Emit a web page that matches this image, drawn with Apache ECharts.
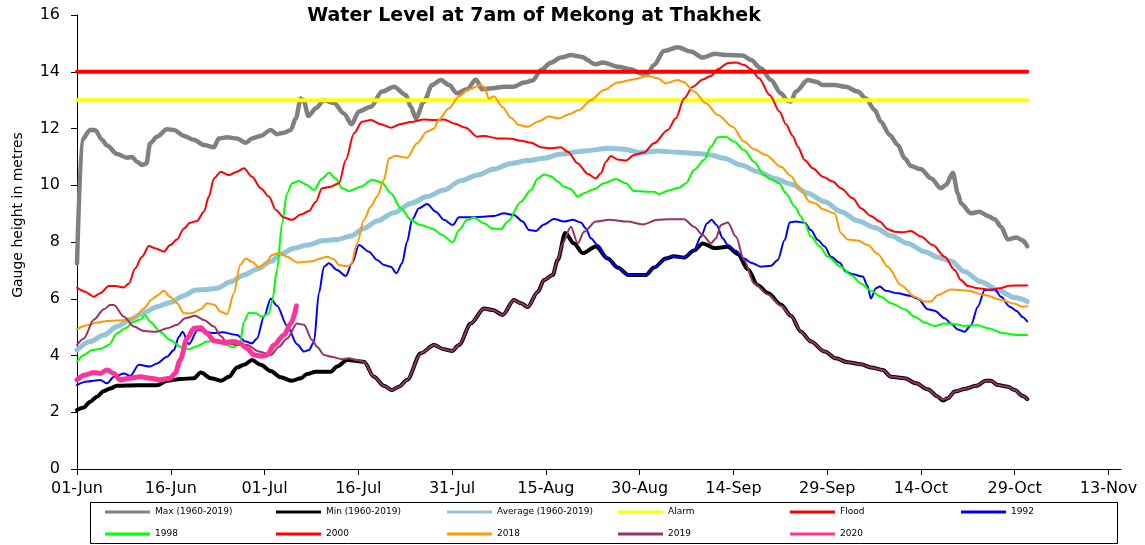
<!DOCTYPE html>
<html>
<head>
<meta charset="utf-8">
<script src="https://cdn.jsdelivr.net/npm/echarts@6/dist/echarts.min.js"></script>
<style>
  html, body { margin: 0; padding: 0; background: #fff; }
  #chart { width: 1145px; height: 545px; }
</style>
</head>
<body>
<div id="chart"></div>
<script>
// days counted from 01-Jun (day 0)
const tickDays = [0, 15, 30, 45, 60, 75, 90, 105, 120, 135, 150, 165];
const tickLabels = ['01-Jun', '16-Jun', '01-Jul', '16-Jul', '31-Jul', '15-Aug',
  '30-Aug', '14-Sep', '29-Sep', '14-Oct', '29-Oct', '13-Nov'];

const alarmLevel = 13;
const floodLevel = 14;
const thresholdDays = [0, 152];

// [day, gauge height in m]
const maxLevel = [[0,7.25],[0.8,11.6],[2.1,11.95],[2.9,11.95],[4,11.6],[4.8,11.4],[6.4,11.1],[8,10.97],[8.8,11.0],[9.6,10.83],[10.4,10.71],[11.1,10.77],[11.7,11.48],[12.8,11.71],[14.4,11.97],[15.5,11.95],[17.1,11.74],[18.7,11.6],[20.3,11.42],[21.9,11.34],[22.7,11.65],[24,11.69],[25.6,11.65],[27,11.5],[28,11.65],[29.4,11.74],[31,11.95],[32,11.8],[33.1,11.85],[34.2,11.95],[35,12.36],[35.8,13.06],[36.3,12.95],[37,12.44],[38.2,12.71],[39.5,13.0],[41.1,12.9],[42.7,12.53],[43.9,12.15],[45.1,12.6],[47,12.77],[48.8,13.3],[50.7,13.47],[52.6,13.18],[53.4,12.77],[54.2,12.36],[55.5,12.95],[56.8,13.53],[58.2,13.71],[59.5,13.53],[60.8,13.24],[62.4,13.38],[63.8,13.73],[64.8,13.38],[66.4,13.42],[68.3,13.47],[69.9,13.47],[71.5,13.62],[72.9,13.69],[74.2,14.06],[75.8,14.32],[77.4,14.5],[79,14.59],[80.6,14.53],[83,14.26],[84.1,14.33],[86.5,14.18],[88.6,14.09],[90.2,13.94],[91.3,13.94],[92.3,14.24],[93.9,14.73],[96.1,14.86],[98.2,14.71],[100.1,14.5],[102,14.63],[104.1,14.59],[106.5,14.57],[107.8,14.41],[109.4,14.12],[111,13.71],[112.6,13.24],[113.7,12.98],[114.2,12.95],[115,13.3],[116.9,13.71],[118.2,13.65],[119.3,13.53],[121.2,13.53],[123,13.47],[124.9,13.3],[126.2,13.06],[127.6,12.65],[128.6,12.24],[130,11.77],[131.3,11.42],[132.4,10.95],[133.4,10.68],[135,10.56],[136.6,10.25],[138.2,9.89],[139,10.01],[140.1,10.44],[140.9,9.72],[141.4,9.36],[143,9.01],[144.4,9.07],[145.7,8.92],[146.8,8.8],[147.8,8.54],[148.9,8.09],[150.3,8.16],[151.3,8.05],[152,7.85]];

const minLevel = [[0,2.08],[1.1,2.17],[2.1,2.37],[3.2,2.55],[4.3,2.75],[5.3,2.84],[6.4,2.93],[9.6,2.95],[12.8,2.95],[14.4,3.11],[16.6,3.17],[18.7,3.2],[19.8,3.4],[21.4,3.2],[23,3.11],[24.3,3.25],[25.6,3.58],[26.7,3.67],[28,3.84],[29.4,3.67],[31,3.45],[32.6,3.23],[34.4,3.11],[35.8,3.2],[36.8,3.35],[38.2,3.43],[40.6,3.43],[41.6,3.61],[43.2,3.84],[45.9,3.78],[47.5,3.25],[49.1,2.93],[50.4,2.78],[51.5,2.9],[52.8,3.14],[55,4.08],[57.1,4.37],[58.7,4.22],[60,4.16],[61.1,4.37],[63,5.13],[65.1,5.66],[66.5,5.6],[68.1,5.43],[69.9,5.96],[71,5.84],[72.1,5.71],[73.7,6.24],[74.7,6.66],[76.1,6.84],[76.9,7.37],[78.1,8.32],[79.5,7.95],[80.9,7.61],[83,7.84],[84.9,7.42],[86.5,7.1],[88.2,6.84],[91,6.84],[92.3,7.1],[94.2,7.42],[95.5,7.5],[97.1,7.45],[98.7,7.7],[100.1,7.95],[102,7.79],[104.1,7.83],[105.7,7.58],[107.3,7.04],[108.9,6.48],[110.5,6.2],[112.6,5.8],[114.2,5.4],[115.8,4.84],[117.4,4.49],[119.6,4.14],[121.4,3.9],[123.3,3.76],[125.4,3.69],[127,3.58],[128.9,3.49],[130.2,3.25],[132.4,3.2],[134.2,3.02],[136.1,2.81],[137.7,2.55],[138.5,2.41],[139.3,2.49],[140.4,2.73],[142,2.82],[143.8,2.93],[145.4,3.11],[146.2,3.11],[147.3,2.96],[148.9,2.9],[150,2.78],[151.3,2.57],[152,2.46]];

const avgLevel = [[0,4.19],[2.1,4.49],[4.3,4.72],[6.4,5.02],[8.5,5.27],[10.7,5.51],[12.8,5.72],[14.9,5.87],[17.1,6.11],[19,6.31],[20.8,6.33],[22.4,6.37],[24.6,6.6],[26.7,6.84],[28.8,7.04],[31,7.31],[32.6,7.58],[34.7,7.78],[36.8,7.89],[39.5,8.05],[41.6,8.09],[43.8,8.21],[45.9,8.48],[48,8.74],[50.7,9.03],[53.4,9.36],[56,9.6],[58.7,9.83],[61.4,10.16],[64.1,10.36],[66.7,10.57],[69.4,10.77],[72.1,10.87],[74.7,10.95],[77.4,11.1],[81.1,11.21],[85.1,11.3],[87.5,11.27],[90.2,11.15],[92.9,11.21],[96.1,11.16],[99.3,11.12],[101.4,11.07],[103.5,10.95],[106.2,10.71],[108.9,10.48],[111.6,10.24],[114.2,10.04],[116.9,9.72],[119.6,9.42],[122.2,9.07],[124.9,8.75],[127.6,8.51],[130.2,8.22],[132.9,7.95],[135.6,7.66],[137.7,7.46],[139.8,7.33],[142,6.95],[144.6,6.6],[147.3,6.31],[150,6.04],[152,5.9]];

const level1992 = [[0,2.96],[1.6,3.08],[3.7,3.14],[4.8,3.02],[5.9,3.25],[7.5,3.37],[8.5,3.28],[9.9,3.67],[11.7,3.61],[12.8,3.72],[14.4,3.96],[15.5,4.19],[16.3,4.66],[16.9,4.84],[17.9,4.4],[19.3,4.9],[21.9,4.79],[23.2,4.82],[25.6,4.72],[27,4.49],[28,4.43],[28.8,4.6],[29.9,5.37],[31,6.0],[32,5.75],[33.6,5.05],[35.2,4.4],[36.3,4.14],[37.1,4.19],[37.9,4.48],[38.7,6.2],[39.5,7.13],[40.3,7.25],[41.6,7.01],[43,6.8],[44,7.25],[45.1,7.89],[46.7,7.66],[48,7.37],[49.1,7.19],[50.2,7.13],[51.1,6.9],[52,7.25],[52.8,8.01],[53.6,8.78],[54.7,9.19],[56,9.34],[57.4,9.07],[58.7,8.78],[60.1,8.6],[61.1,8.87],[63,8.87],[65.1,8.89],[66.7,8.92],[68.3,9.01],[69.9,8.95],[71.3,8.72],[72.3,8.42],[73.4,8.39],[74.7,8.62],[76.3,8.81],[77.9,8.72],[79.3,8.78],[80.6,8.69],[81.4,8.48],[82.2,8.13],[83.3,7.89],[84.9,7.42],[86.5,7.1],[88.3,6.84],[91,6.84],[92.3,7.1],[94.2,7.42],[95.5,7.5],[97.1,7.45],[98.7,7.72],[99.8,8.19],[100.8,8.66],[101.5,8.78],[102.3,8.6],[103.3,8.13],[104.1,7.89],[105.4,7.69],[106.7,7.42],[107.8,7.27],[109.4,7.13],[111,7.16],[112.1,7.37],[113.2,8.07],[114,8.69],[115,8.72],[116.4,8.68],[117.4,8.42],[118.5,8.07],[119.6,7.84],[120.6,7.48],[122,7.27],[123,6.95],[124.1,6.86],[125.7,6.78],[126.4,6.48],[127,6.01],[127.8,6.37],[128.4,6.43],[129.4,6.28],[131.3,6.19],[133.2,6.11],[134.5,6.01],[136.1,5.63],[137.2,5.58],[138.8,5.31],[139.8,5.13],[140.9,4.92],[142,4.84],[143,5.07],[144.1,5.72],[145.2,6.31],[146.8,6.33],[147.8,6.07],[149.2,5.72],[150.3,5.57],[151.3,5.35],[152,5.2]];

const level1998 = [[0,3.78],[1.1,4.02],[2.4,4.19],[3.7,4.23],[5.1,4.37],[6.4,4.78],[7.7,4.96],[9.1,5.19],[10.1,5.27],[10.9,5.43],[11.7,5.19],[13.3,4.84],[14.9,4.55],[16.5,4.31],[17.9,4.22],[19.2,4.33],[20.8,4.49],[22.4,4.52],[23.8,4.37],[25.1,4.29],[26.1,4.49],[26.7,5.19],[27.5,5.51],[28.6,5.49],[29.6,5.37],[30.7,5.49],[31.2,5.9],[32,7.01],[32.8,8.66],[33.6,9.72],[34.4,10.07],[35.5,10.15],[36.8,10.01],[37.9,9.83],[39.2,10.24],[40.3,10.44],[41.4,10.24],[42.4,9.89],[43.5,9.8],[45.4,9.95],[47.2,10.19],[48.8,10.09],[50.2,9.72],[51.8,9.19],[53.4,8.78],[54.7,8.62],[56.8,8.48],[58.4,8.25],[60.1,7.99],[61.1,8.42],[62.4,8.78],[63.5,8.86],[65.1,8.66],[66.4,8.48],[67.8,8.45],[68.9,8.72],[71,9.42],[72.6,9.83],[73.7,10.24],[74.7,10.38],[75.8,10.32],[76.9,10.13],[77.9,9.95],[79,9.86],[80.1,9.6],[81.1,9.72],[82.7,9.86],[84.3,10.07],[86.2,10.22],[87.8,10.07],[89.1,9.8],[91,9.77],[92.3,9.77],[93.1,9.69],[94.5,9.81],[96.3,9.91],[97.4,10.07],[98.7,10.54],[100.3,10.89],[101.4,11.36],[102.5,11.69],[103.8,11.71],[105.1,11.54],[106.7,11.24],[108.3,10.83],[109.9,10.36],[111,10.21],[112.3,10.07],[113.4,9.72],[114.8,9.25],[115.8,8.9],[116.4,8.66],[117.4,8.19],[118.8,7.84],[120.1,7.48],[122.2,7.13],[123.8,6.84],[125.4,6.54],[127,6.28],[128.6,6.07],[130.2,5.84],[132.4,5.63],[134,5.37],[135.6,5.16],[137.2,5.04],[138.8,5.13],[140.4,5.11],[142,5.04],[144.1,5.07],[145.7,4.96],[148.4,4.78],[150.5,4.72],[152,4.72]];

const level2000 = [[0,6.39],[1.3,6.25],[2.7,6.07],[3.7,6.19],[5.1,6.45],[6.1,6.45],[7.5,6.4],[8.3,6.54],[9.3,7.07],[10.4,7.48],[11.5,7.86],[12.5,7.78],[13.9,7.66],[14.9,7.89],[16,8.09],[17.1,8.48],[18.1,8.68],[19.2,8.74],[20.3,9.07],[21.1,9.6],[21.9,10.24],[23,10.48],[24.3,10.36],[25.6,10.48],[26.7,10.6],[28,10.3],[29.4,9.89],[30.7,9.6],[31.8,9.13],[33.1,8.86],[34.4,8.78],[35.8,8.97],[37.1,9.09],[38.2,9.42],[39.2,9.89],[40.6,9.95],[41.9,10.07],[43,10.89],[44.3,11.83],[45.6,12.24],[47,12.3],[48.6,12.15],[50.2,12.03],[51.8,12.16],[53.4,12.23],[55.5,12.32],[57.1,12.3],[58.7,12.32],[60.3,12.18],[62.2,12.03],[64,11.71],[65.1,11.74],[67.3,11.65],[69.4,11.64],[71,11.57],[72.6,11.5],[74.2,11.34],[75.8,11.3],[77.4,11.34],[78.5,11.18],[80.1,10.77],[81.7,10.4],[83,10.24],[83.8,10.42],[84.6,10.83],[85.4,11.03],[86.5,10.91],[87.8,10.87],[89.1,11.07],[90.7,11.15],[92.3,11.48],[94.5,11.95],[95.8,12.36],[97.1,13.06],[98.5,13.47],[100.1,13.73],[101.4,13.85],[102.5,14.09],[104.1,14.3],[105.4,14.33],[106.7,14.24],[107.8,14.09],[109.1,13.77],[110.8,13.18],[112.4,12.59],[113.4,12.15],[114.5,11.74],[115.3,11.36],[116.4,10.89],[117.7,10.6],[119.3,10.3],[120.9,10.13],[122.2,9.89],[124.1,9.54],[125.4,9.19],[127,8.92],[128.4,8.72],[129.7,8.45],[130.8,8.36],[132.1,8.34],[133.4,8.39],[135,8.19],[136.9,7.89],[138.8,7.48],[140.4,7.01],[141.4,6.66],[142.5,6.45],[144.1,6.37],[146,6.31],[147.6,6.37],[149.2,6.46],[151,6.47],[152,6.47]];

const level2018 = [[0,4.93],[1.6,5.07],[3.2,5.16],[4.8,5.22],[6.4,5.23],[8,5.25],[9.3,5.35],[10.7,5.66],[12,5.98],[12.8,6.11],[13.9,6.28],[14.9,6.07],[16,5.84],[17.1,5.49],[18.4,5.49],[19.8,5.63],[20.8,5.84],[21.9,5.8],[23,5.54],[24,5.46],[25.1,6.19],[26.1,7.19],[27,7.42],[28,7.3],[29.1,7.1],[30.2,7.25],[31.2,7.54],[32.3,7.62],[33.6,7.48],[35.2,7.28],[36.6,7.3],[37.9,7.33],[38.9,7.42],[40,7.48],[41.1,7.39],[41.9,7.19],[43,7.15],[43.8,7.17],[44.8,7.95],[45.9,8.78],[47,9.25],[48,9.6],[49.1,10.19],[49.9,10.95],[51,11.04],[52.8,10.97],[54.4,11.48],[56,11.89],[57.1,12.0],[57.9,12.32],[59.5,12.71],[61.1,13.14],[62.7,13.38],[64.6,13.53],[65.1,13.47],[65.9,13.06],[66.7,13.14],[68.1,12.75],[69.4,12.38],[70.7,12.12],[72.1,12.06],[73.7,12.24],[75.5,12.42],[77.1,12.36],[78.7,12.5],[80.3,12.65],[82.2,13.0],[84.3,13.36],[86.5,13.62],[88.9,13.73],[91.3,13.85],[92.9,13.77],[94.2,13.59],[96.1,13.71],[97.1,13.63],[98.7,13.3],[100.6,12.89],[102.5,12.48],[104.9,12.06],[106.7,11.54],[108.3,11.27],[110.2,11.07],[112.6,10.65],[114.2,10.33],[115.6,9.89],[117.2,9.42],[118.2,9.36],[119.3,9.15],[121.2,9.01],[122.2,8.31],[123.3,8.09],[124.9,8.05],[126.5,7.89],[128.1,7.58],[129.7,7.13],[131.8,6.48],[134,6.07],[135.6,5.9],[136.6,5.9],[137.7,6.13],[139.8,6.33],[142.5,6.28],[145.2,6.13],[147.9,5.96],[150,5.82],[151.3,5.72],[152,5.74]];

const level2019 = [[0,4.37],[1.1,4.6],[2.7,5.27],[4.3,5.63],[5.3,5.78],[5.9,5.78],[7.5,5.37],[9.1,5.02],[10.7,4.86],[12.8,4.84],[14.4,4.96],[16,5.08],[17.3,5.31],[18.9,5.4],[20.3,5.25],[21.9,5.02],[23,4.69],[24,4.43],[25.6,4.37],[27.2,4.37],[29.1,4.14],[31,4.02],[32.3,4.31],[33.6,4.6],[35.2,5.13],[36.3,5.08],[37.6,4.55],[38.4,4.31],[39.5,4.02],[40.6,3.96],[42.4,3.87],[43.5,3.9],[44.8,3.84],[45.9,3.78],[47.5,3.25],[49.1,2.93],[50.4,2.78],[51.5,2.9],[52.8,3.14],[55,4.08],[57.1,4.37],[58.7,4.22],[60,4.16],[61.1,4.37],[63,5.13],[65.1,5.66],[66.5,5.6],[68.1,5.43],[69.9,5.96],[71,5.84],[72.1,5.71],[73.7,6.24],[74.7,6.66],[76.1,6.84],[76.9,7.37],[77.7,7.96],[79,8.54],[80.1,7.95],[81.1,8.36],[83,8.72],[85.1,8.78],[88.1,8.72],[90.5,8.62],[92.9,8.78],[94.7,8.8],[97.1,8.8],[98.7,8.54],[100.1,8.25],[101.4,7.95],[102.2,8.13],[103,8.6],[104.1,8.69],[105.4,8.19],[106.7,7.37],[108.3,6.54],[110.5,6.15],[112.6,5.75],[114.2,5.4],[115.8,4.84],[117.4,4.49],[119.6,4.14],[121.4,3.9],[123.3,3.76],[125.4,3.69],[127,3.58],[128.9,3.49],[130.2,3.25],[132.4,3.2],[134.2,3.02],[136.1,2.81],[137.7,2.55],[138.5,2.45],[139.3,2.49],[140.4,2.73],[142,2.82],[143.8,2.93],[145.4,3.11],[146.2,3.11],[147.3,2.96],[148.9,2.9],[150,2.78],[151.3,2.57],[152,2.46]];

const level2020 = [[0,3.14],[1.3,3.31],[2.7,3.4],[3.7,3.37],[4.8,3.49],[5.9,3.37],[6.9,3.14],[8.5,3.2],[10.1,3.25],[11.7,3.2],[13.3,3.14],[14.9,3.2],[15.7,3.37],[16.5,3.84],[17.6,4.6],[18.7,4.96],[19.8,4.98],[20.8,4.78],[21.9,4.52],[23.5,4.46],[25.1,4.49],[26.1,4.43],[27.2,4.25],[28.3,4.02],[29.6,3.98],[30.4,4.02],[31.5,4.37],[33.1,4.72],[34.2,5.13],[35.1,5.75]];

// series in drawing order (later ones on top), with their look
const lines = [
  { name: 'Max (1960-2019)', data: maxLevel, color: '#808080', width: 4.5 },
  { name: 'Min (1960-2019)', data: minLevel, color: '#000000', width: 4 },
  { name: 'Average (1960-2019)', data: avgLevel, color: '#93C4D8', width: 5 },
  { name: 'Alarm', data: thresholdDays.map(d => [d, alarmLevel]), color: '#FFFF00', width: 4 },
  { name: 'Flood', data: thresholdDays.map(d => [d, floodLevel]), color: '#FF0000', width: 4 },
  { name: '1992', data: level1992, color: '#0000FF', width: 2 },
  { name: '1998', data: level1998, color: '#00FF00', width: 2 },
  { name: '2000', data: level2000, color: '#FF0000', width: 2 },
  { name: '2018', data: level2018, color: '#FF9900', width: 2 },
  { name: '2019', data: level2019, color: '#993366', width: 2 },
  { name: '2020', data: level2020, color: '#FF3399', width: 5 }
];

// legend: two rows, six columns
const legendColumns = [
  ['Max (1960-2019)', '1998'],
  ['Min (1960-2019)', '2000'],
  ['Average (1960-2019)', '2018'],
  ['Alarm', '2019'],
  ['Flood', '2020'],
  ['1992']
];
const legendLeft = [105, 276, 447, 618, 790, 961];
const legendTop = [506, 528];

const chart = echarts.init(document.getElementById('chart'), null, { renderer: 'canvas' });

const legends = [];
legendColumns.forEach((col, i) => {
  col.forEach((name, j) => {
    legends.push({
      data: [name],
      left: legendLeft[i],
      top: legendTop[j],
      padding: 0,
      icon: 'rect',
      itemWidth: 45,
      itemHeight: 3,
      selectedMode: false,
      itemStyle: { borderWidth: 0 },
      textStyle: { fontFamily: 'DejaVu Sans', fontSize: 9, color: '#000', lineHeight: 12 }
    });
  });
});

const option = {
  animation: false,
  backgroundColor: '#fff',
  grid: { left: 77, right: 24, top: 15, bottom: 76, containLabel: false, outerBoundsMode: 'none' },
  graphic: [
    {
      type: 'text', x: 534, y: 16,
      style: {
        text: 'Water Level at 7am of Mekong at Thakhek',
        font: 'bold 19px "DejaVu Sans"', fill: '#000',
        textAlign: 'center', textVerticalAlign: 'middle'
      }
    },
    {
      type: 'text', x: 18, y: 215, rotation: Math.PI / 2,
      style: {
        text: 'Gauge height in metres',
        font: '14px "DejaVu Sans"', fill: '#000',
        textAlign: 'center', textVerticalAlign: 'middle'
      }
    },
    {
      type: 'rect', z: -1,
      shape: { x: 90.5, y: 502.5, width: 1027, height: 41 },
      style: { fill: '#fff', stroke: '#000', lineWidth: 1 }
    }
  ],
  legend: legends,
  xAxis: {
    type: 'value',
    min: 0,
    max: 167,
    interval: 15,
    splitLine: { show: false },
    axisLine: { show: true, lineStyle: { color: '#000', width: 1 } },
    axisTick: { show: true, length: 6, customValues: tickDays, lineStyle: { color: '#000' } },
    axisLabel: {
      customValues: tickDays,
      formatter: v => tickLabels[tickDays.indexOf(v)] || '',
      fontFamily: 'DejaVu Sans', fontSize: 16, color: '#000', margin: 12
    }
  },
  yAxis: {
    type: 'value',
    min: 0,
    max: 16,
    interval: 2,
    splitLine: { show: false },
    axisLine: { show: true, lineStyle: { color: '#000', width: 1 } },
    axisTick: { show: true, length: 6, lineStyle: { color: '#000' } },
    axisLabel: { fontFamily: 'DejaVu Sans', fontSize: 16, color: '#000', margin: 17 }
  },
  series: lines.map(l => ({
    name: l.name,
    type: 'line',
    data: l.data,
    showSymbol: false,
    symbol: 'none',
    smooth: 0.3,
    smoothMonotone: 'x',
    itemStyle: { color: l.color },
    lineStyle: { color: l.color, width: l.width, cap: 'round', join: 'round' },
    emphasis: { disabled: true }
  }))
};

chart.setOption(option);
</script>
</body>
</html>
